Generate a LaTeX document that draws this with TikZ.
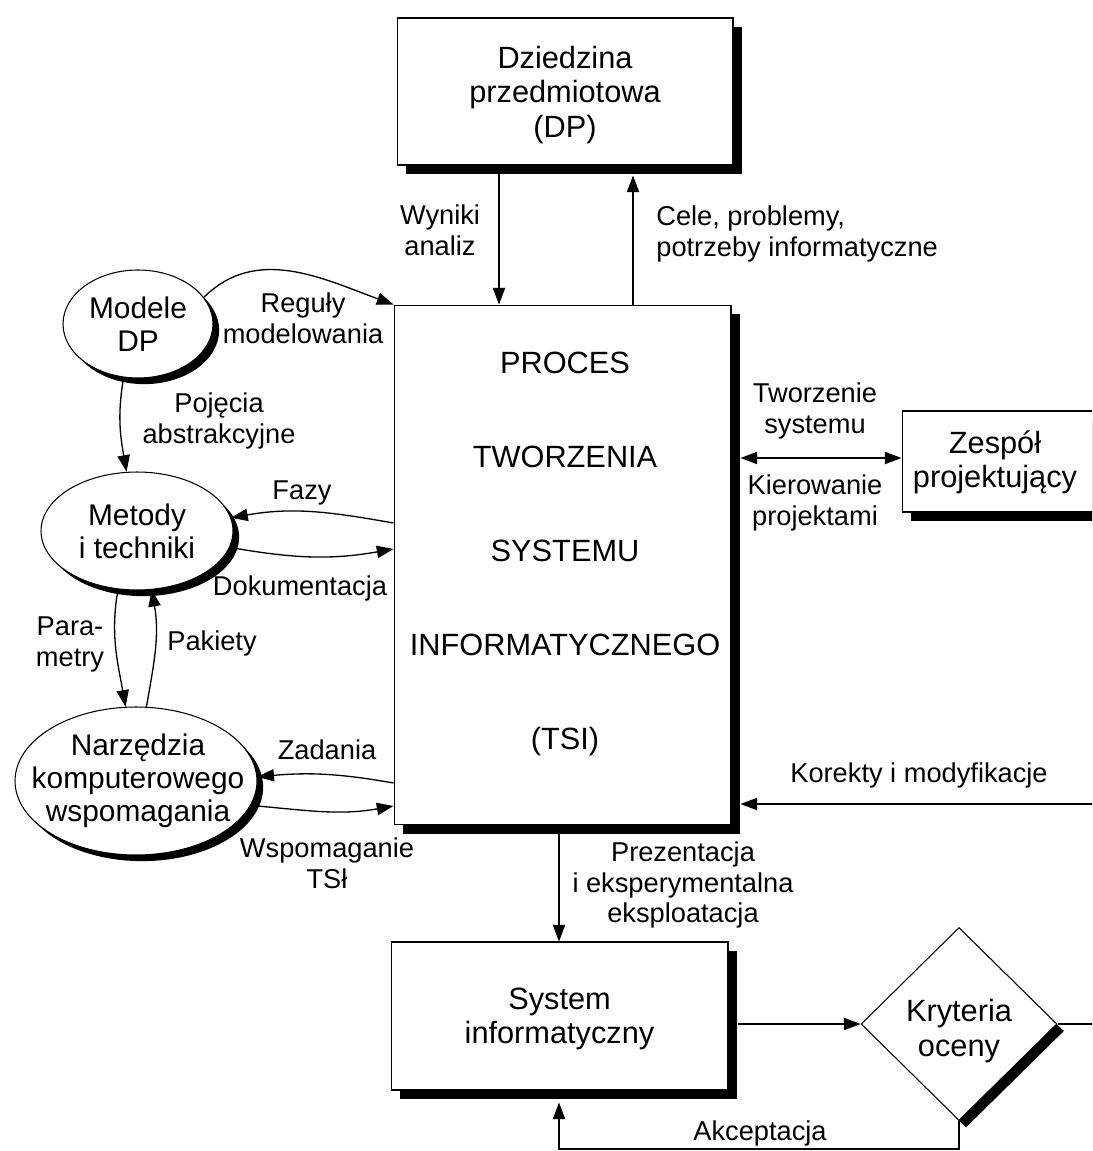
\documentclass[tikz,border=0pt]{standalone}
\usepackage{fontspec}
\setmainfont{Liberation Sans}
\usetikzlibrary{shapes.geometric,arrows.meta,shadows,calc}
\begin{document}
\begin{tikzpicture}[x=0.02cm,y=-0.02cm,
  shd/.style={drop shadow={shadow xshift=#1, shadow yshift=-#1, opacity=1, fill=black}},
  box/.style={draw, fill=white, line width=0.6pt, inner sep=0pt, shd=5pt},
  ell/.style={ellipse, draw, fill=white, line width=0.6pt, inner sep=0pt, align=center,
    font=\fontsize{17}{18.7}\selectfont, shd=3.5pt},
  boxtext/.style={align=center, font=\fontsize{17.5}{19.8}\selectfont},
  etext/.style={align=center, inner sep=0pt, font=\fontsize{17}{18.7}\selectfont},
  lbl/.style={align=center, inner sep=0pt, font=\fontsize{15.5}{17.6}\selectfont},
  arr/.style={line width=0.75pt, -{Triangle[length=9.5pt,width=7pt]}},
  arrboth/.style={line width=0.75pt, {Triangle[length=9.5pt,width=7pt]}-{Triangle[length=9.5pt,width=7pt]}},
]
\useasboundingbox (0,0) rectangle (1092,1151);
\clip (0,0) rectangle (1092,1151);

% boxes
\node[box, boxtext, minimum width=6.72cm, minimum height=2.94cm] (dp) at (565,91.5) {};
\node[boxtext, inner sep=0pt] (dptext) at (565,95)
  {Dziedzina\\przedmiotowa\\(DP)};
\node[box, minimum width=6.74cm, minimum height=10.4cm] (tsi) at (562.5,565) {};
\node[align=center, inner sep=0pt, font=\fontsize{17.5}{53.4}\selectfont] (tsitext) at (565,554)
  {PROCES\\TWORZENIA\\SYSTEMU\\INFORMATYCZNEGO\\(TSI)};
\node[box, minimum width=4.36cm, minimum height=2.02cm] (zespol) at (1011,461.5) {};
\node[align=center, inner sep=0pt, font=\fontsize{17.5}{19.3}\selectfont] (zespoltext) at (995,462)
  {Zespół\\projektujący};
\node[box, minimum width=6.74cm, minimum height=2.96cm] (sys) at (559.5,1016) {};
\node[boxtext, inner sep=0pt] (systext) at (559.5,1019) {System\\informatyczny};
\node[diamond, aspect=1, draw, fill=white, line width=0.6pt, inner sep=0pt,
  minimum width=3.92cm, minimum height=3.86cm, shd=4pt] (krit) at (959,1024) {};
\node[boxtext, inner sep=0pt] (krittext) at (959,1031) {Kryteria\\oceny};

% ellipses
\node[ell, minimum width=3cm, minimum height=2.16cm] (modele) at (138,324) {Modele\\DP};
\node[ell, minimum width=3.84cm, minimum height=2.36cm] (metody) at (137,531) {Metody\\i techniki};
\node[ell, minimum width=4.84cm, minimum height=2.96cm] (narz) at (136,781) {};
\node[etext] (narztext) at (138,781) {Narzędzia\\komputerowego\\wspomagania};

% helper coordinates
\coordinate (xW) at (499,0);
\coordinate (xC) at (633,0);
\coordinate (xP) at (559,0);
\coordinate (tsiShR) at ($(tsi.east)+(9,0)$);
\coordinate (sysShR) at ($(sys.east)+(9,0)$);

% labels
\node[lbl] (lWyniki) at (440,230) {Wyniki\\analiz};
\node[lbl, align=left, anchor=west] (lCele) at (656,234) {Cele, problemy,\\potrzeby informatyczne};
\node[lbl] (lRegul) at (303,318) {Reguły\\modelowania};
\node[lbl] (lPoj) at (219,421) {Pojęcia\\abstrakcyjne};
\node[lbl] (lFazy) at (302,493) {Fazy};
\node[lbl] (lDok) at (300,588) {Dokumentacja};
\node[lbl] (lPar) at (70,644) {Para-\\metry};
\node[lbl] (lPak) at (212,643) {Pakiety};
\node[lbl] (lZad) at (327,750) {Zadania};
\node[lbl] (lWsp) at (327,863) {Wspomaganie\\TSł};
\node[lbl] (lTw) at (815,411) {Tworzenie\\systemu};
\node[lbl] (lKier) at (815,503) {Kierowanie\\projektami};
\node[lbl] (lKor) at (919,775) {Korekty i modyfikacje};
\node[lbl] (lPrez) at (683,885) {Prezentacja\\i eksperymentalna\\eksploatacja};
\node[lbl] (lAkc) at (760,1133) {Akceptacja};

% connectors
\draw[arr] (dp.south -| xW) -- (tsi.north -| xW);
\draw[arr] (tsi.north -| xC) -- ($(dp.south -| xC)+(0,10)$);
\draw[arrboth] (tsiShR |- 0,458) -- (zespol.west |- 0,458);
\draw[arr] (krit.east) -- ++(60,0) |- (tsiShR |- 0,804);
\draw[arr] (tsi.south -| xP) -- (sys.north -| xP);
\draw[arr] (krit.west -| sysShR) -- (krit.west);
\draw[arr] (krit.south) -- ++(0,28) -| ($(sys.south -| xP)+(0,12)$);

\draw[arr] (modele.22) to[out=45,in=160] (tsi.north west);
\draw[arr] (modele.255) to[out=260,in=100] (metody.100);
\draw[arr] (tsi.west |- 0,523) to[out=170,in=10] (metody.8);
\draw[arr] (metody.-10) to[out=-10,in=190] (tsi.west |- 0,549);
\draw[arr] (metody.252) to[out=260,in=100] (narz.98);
\draw[arr] (narz.82) to[out=80,in=280] (metody.284);
\draw[arr] (tsi.west |- 0,783) to[out=170,in=5] (narz.2);
\draw[arr] (narz.-12) to[out=-5,in=190] (tsi.west |- 0,806);
\end{tikzpicture}
\end{document}
